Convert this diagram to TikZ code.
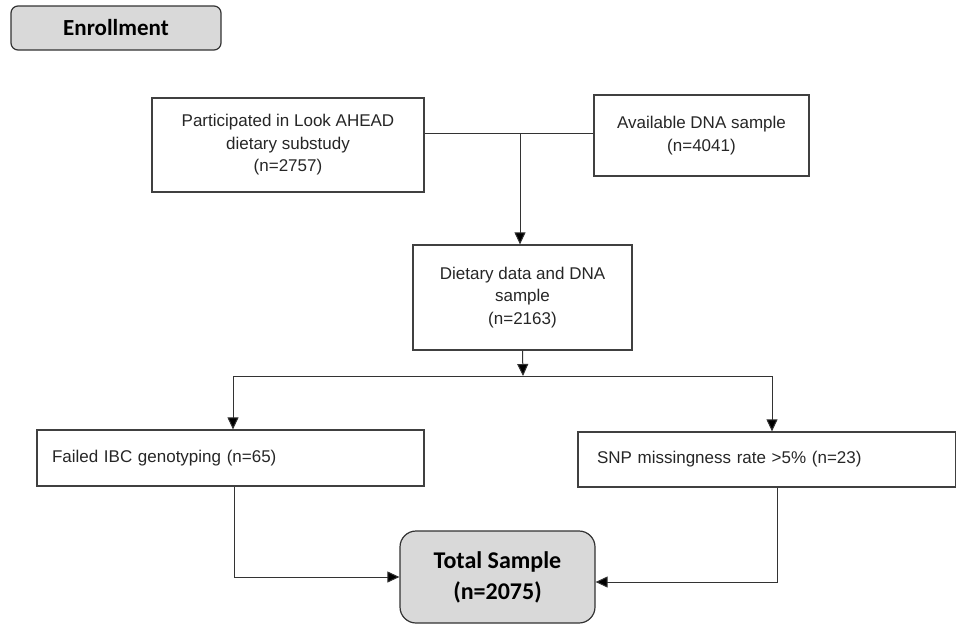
\documentclass[tikz,border=0pt]{standalone}
\usepackage{fontspec}
\setmainfont{Liberation Sans}
\newfontfamily\headfont{Carlito}
\usetikzlibrary{arrows.meta,calc}

\begin{document}
\begin{tikzpicture}[x=1pt,y=-1pt,
	line width=1pt,draw=black!80,
	arrow/.style={-{Triangle[length=12pt,width=11pt,fill=black]}},
	main node/.style={rectangle,draw=black!75,line width=1.2pt,align=center,inner sep=0pt,
		text=black!85,font=\fontsize{17}{22.5}\selectfont},
	side node/.style={main node,align=left},
	head node/.style={rectangle,draw=black!80,line width=1.2pt,fill=black!15,inner sep=0pt,
		align=center,font=\headfont\bfseries\fontsize{23}{31}\selectfont}]

	\useasboundingbox (0,0) rectangle (956,625);

	\node[head node,rounded corners=7pt,minimum width=210pt,minimum height=44pt] (enrol) at (116,28) {Enrollment};
	\node[main node,minimum width=272pt,minimum height=94pt] (part) at (288,145) {Participated in Look AHEAD\\dietary substudy\\(n=2757)};
	\node[main node,minimum width=215pt,minimum height=81pt] (avail) at (701.5,135.5) {Available DNA sample\\(n=4041)};
	\node[main node,minimum width=219pt,minimum height=105pt] (diet) at (522.5,297.5) {Dietary data and DNA\\sample\\(n=2163)};
	\node[side node,text width=357pt,minimum width=387pt,minimum height=56pt] (fail) at (230.5,458) {Failed IBC genotyping (n=65)};
	\node[side node,text width=340pt,minimum width=378pt,minimum height=55pt] (snp) at (767,459.5) {SNP missingness rate >5\% (n=23)};
	\node[head node,rounded corners=16pt,minimum width=195pt,minimum height=92pt,font=\headfont\bfseries\fontsize{24}{31}\selectfont] (total) at (497.5,577) {Total Sample\\(n=2075)};

	\coordinate (join) at (520,133);
	\coordinate (split) at (523,376);
	\coordinate (splitL) at (233,376);
	\coordinate (splitR) at (772,376);

	\draw (part.east |- join) -- (avail.west |- join);
	\draw[arrow] (join) -- (join |- diet.north);
	\draw[arrow] (diet.south) -- (split);
	\draw (splitL) -- (splitR);
	\draw[arrow] (splitL) -- (splitL |- fail.north);
	\draw[arrow] (splitR) -- (splitR |- snp.north);
	\draw[arrow] ([xshift=1pt]splitL |- fail.south) |- (total.west);
	\draw[arrow] ([xshift=5pt]splitR |- snp.south) |- ([yshift=-5pt]total.east);
\end{tikzpicture}
\end{document}
